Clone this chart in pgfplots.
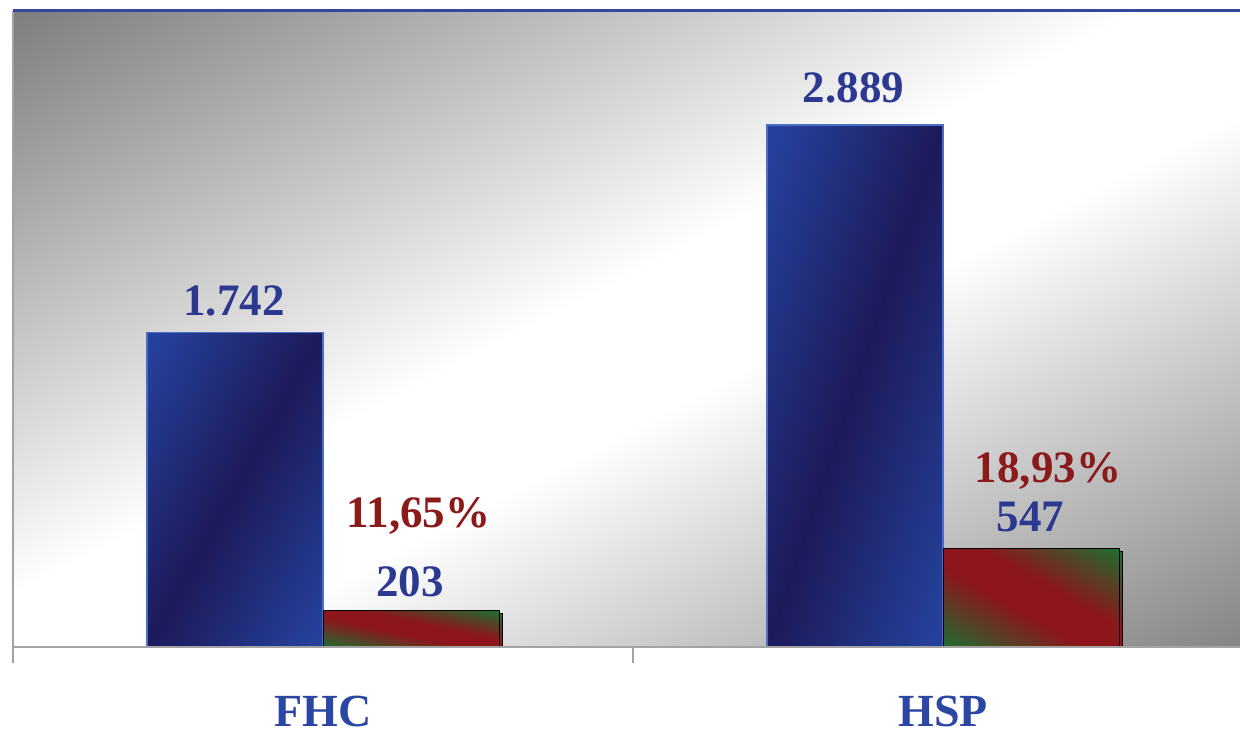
\documentclass[border=0pt]{standalone}
\usepackage{pgfplots}
\pgfplotsset{compat=1.18}
\usepackage{fontspec}
\setmainfont{Liberation Serif}
\usetikzlibrary{shadows}

\definecolor{valblue}{HTML}{2B3990}
\definecolor{catblue}{HTML}{2C46A4}
\definecolor{pctred}{HTML}{8B1A1A}
\definecolor{edgeblue}{HTML}{4A6FC4}
\definecolor{framegray}{HTML}{A3A3A3}
\definecolor{topblue}{HTML}{3547A2}

% Functional shadings on the 100bp square; the central 50bp square is
% stretched onto the shaded path, so t = (x - y + 50)/100 runs from the
% top-left corner (0) to the bottom-right corner (1) of the path.
% backdrop: gray corners, white band along the anti-diagonal
\pgfdeclarefunctionalshading{backdrop}{\pgfpointorigin}{\pgfpoint{100bp}{100bp}}{}{%
  sub 50 add 100 div
  dup 1.109 mul 0.49 add
  exch 0.58 sub 1.143 mul 1 exch sub
  2 copy gt {exch} if pop
  1 2 copy gt {exch} if pop
  dup dup}
% blue bars: dark navy streak along the anti-diagonal
\pgfdeclarefunctionalshading{bluebar}{\pgfpointorigin}{\pgfpoint{100bp}{100bp}}{}{%
  sub 50 add 100 div
  0.5 sub abs 2.2 mul
  1 2 copy gt {exch} if pop
  dup 0.031 mul 0.114 add
  exch dup 0.149 mul 0.102 add
  exch 0.251 mul 0.353 add}
% red bars: red band along the main diagonal, green corners
\pgfdeclarefunctionalshading{redbar}{\pgfpointorigin}{\pgfpoint{100bp}{100bp}}{}{%
  add 50 sub 100 div
  0.5 sub abs 0.1 sub 0.4 div
  0 2 copy lt {exch} if pop
  1 2 copy gt {exch} if pop
  dup -0.431 mul 0.549 add
  exch dup 0.345 mul 0.086 add
  exch 0.090 mul 0.106 add}

\tikzset{
  valstyle/.style={anchor=base, inner sep=0pt,
    font=\bfseries\fontsize{22.5}{26}\selectfont},
  bluestyle/.style={bar shift=-0.142, draw=edgeblue, line width=0.75pt,
    shading=bluebar},
  redstyle/.style={bar shift=0.142, draw=black, line width=0.5pt,
    shading=redbar,
    drop shadow={shadow xshift=1.6pt, shadow yshift=-1.6pt,
      opacity=1, fill=black}},
}

\begin{document}
\begin{tikzpicture}
\begin{axis}[
  scale only axis, width=613.5pt, height=318pt,
  at={(0,0)}, anchor=south west,
  xmin=-0.5, xmax=1.479, ymin=0, ymax=3520,
  enlargelimits=false,
  axis line style={draw=none},
  axis background/.style={shading=backdrop},
  ytick=\empty,
  xtick={-0.5,0.5,1.5}, xticklabels={},
  xtick pos=bottom, tick align=outside,
  major tick length=8pt,
  every tick/.style={framegray, line width=1pt},
  extra x ticks={0,1}, extra x tick labels={FHC,HSP},
  extra x tick style={major tick length=0pt},
  xticklabel style={anchor=base, yshift=-39.5pt, text=catblue,
    font=\bfseries\fontsize{23}{27}\selectfont},
  ybar, bar width=0.284,
  extra description/.code={
    \draw[framegray, line width=1pt] (rel axis cs:0,0) -- (rel axis cs:0,1);
    \draw[framegray, line width=1pt] (rel axis cs:0,0) -- (rel axis cs:1,0);
    \draw[topblue, line width=1.5pt] (rel axis cs:0,1) -- (rel axis cs:1,1);
  },
]
% one plot per bar so that each bar carries its own gradient
\addplot[bluestyle] coordinates {(0,1742)};
\addplot[bluestyle] coordinates {(1,2889)};
\addplot[redstyle] coordinates {(0,203)};
\addplot[redstyle] coordinates {(1,547)};

\node[valstyle, text=valblue] at (axis cs:-0.1435,1837) {1.742};
\node[valstyle, text=valblue] at (axis cs:0.8556,3016) {2.889};
\node[valstyle, text=pctred]  at (axis cs:0.154,664) {11,65\%};
\node[valstyle, text=valblue] at (axis cs:0.1403,277) {203};
\node[valstyle, text=pctred]  at (axis cs:1.1694,909) {18,93\%};
\node[valstyle, text=valblue] at (axis cs:1.141,638) {547};
\end{axis}
\pgfresetboundingbox
\path[use as bounding box] (-6.5pt,-43.5pt) rectangle (613.5pt,323.5pt);
\end{tikzpicture}
\end{document}
